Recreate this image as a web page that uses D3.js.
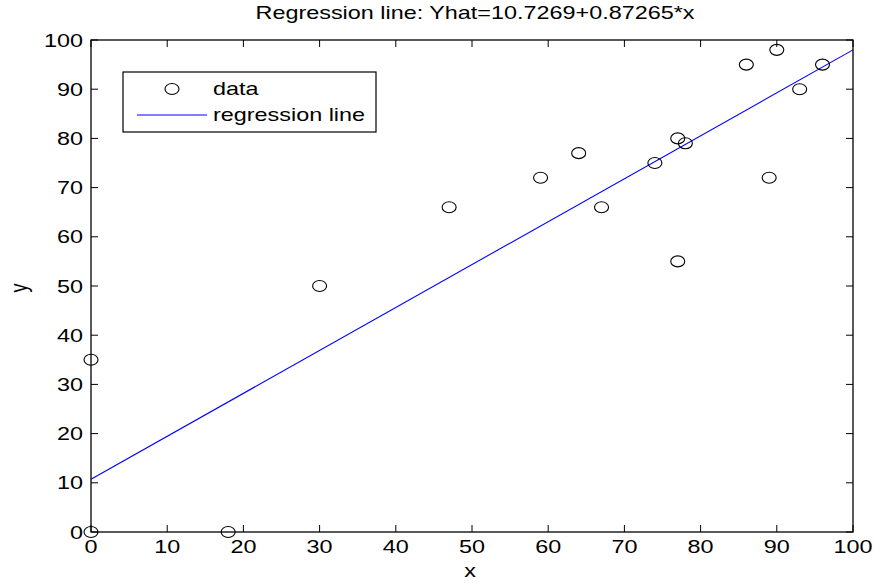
<!DOCTYPE html>
<html>
<head>
<meta charset="utf-8">
<script src="https://cdn.jsdelivr.net/npm/d3@7"></script>
<style>
  html, body { margin: 0; padding: 0; background: #fff; }
  svg { display: block; }
  text { font-family: "Liberation Sans", Arial, sans-serif; fill: #000; }
</style>
</head>
<body>
<svg id="chart" width="875" height="583"></svg>
<script>
// Observations
const xs = [0, 0, 18, 30, 47, 59, 64, 67, 74, 77, 77, 78, 86, 89, 90, 93, 96];
const ys = [0, 35, 0, 50, 66, 72, 77, 66, 75, 80, 55, 79, 95, 72, 98, 90, 95];

// Fitted coefficients
const intercept = 10.7269;
const slope = 0.87265;

const xTicks = [0, 10, 20, 30, 40, 50, 60, 70, 80, 90, 100];
const yTicks = [0, 10, 20, 30, 40, 50, 60, 70, 80, 90, 100];
const legendLabels = ["data", "regression line"];

const L = 91, R = 853, T = 40, B = 532;
const FS = 18, SX = 1.3;   // font size, horizontal text stretch
const tickLen = 7;

const svg = d3.select("#chart");
const x = d3.scaleLinear().domain([0, 100]).range([L, R]);
const y = d3.scaleLinear().domain([0, 100]).range([B, T]);

// text helper with horizontal stretch
function label(g, str, px, py, anchor, extra) {
  return g.append("text")
    .attr("transform", `translate(${px},${py}) scale(${SX},1)` + (extra || ""))
    .attr("text-anchor", anchor)
    .attr("font-size", FS)
    .text(str);
}

// regression line
const lineData = [0, 100].map(v => [v, intercept + slope * v]);
svg.append("path")
  .attr("d", d3.line().x(d => x(d[0])).y(d => y(d[1]))(lineData))
  .attr("fill", "none")
  .attr("stroke", "#0000ff")
  .attr("stroke-width", 1.1);

// data markers
svg.append("g").selectAll("ellipse")
  .data(xs.map((v, i) => [v, ys[i]]))
  .join("ellipse")
  .attr("cx", d => x(d[0]))
  .attr("cy", d => y(d[1]))
  .attr("rx", 7)
  .attr("ry", 5.5)
  .attr("fill", "none")
  .attr("stroke", "#000")
  .attr("stroke-width", 1.1);

// axes box
svg.append("rect")
  .attr("x", L).attr("y", T)
  .attr("width", R - L).attr("height", B - T)
  .attr("fill", "none")
  .attr("stroke", "#000")
  .attr("stroke-width", 1.3);

// inward ticks on all four sides
const tg = svg.append("g").attr("stroke", "#000").attr("stroke-width", 1);
xTicks.forEach(t => {
  tg.append("line").attr("x1", x(t)).attr("x2", x(t)).attr("y1", B).attr("y2", B - tickLen);
  tg.append("line").attr("x1", x(t)).attr("x2", x(t)).attr("y1", T).attr("y2", T + tickLen);
});
yTicks.forEach(t => {
  tg.append("line").attr("y1", y(t)).attr("y2", y(t)).attr("x1", L).attr("x2", L + tickLen);
  tg.append("line").attr("y1", y(t)).attr("y2", y(t)).attr("x1", R).attr("x2", R - tickLen);
});

// tick labels
const lg = svg.append("g");
xTicks.forEach(t => label(lg, String(t), x(t), B + 21, "middle"));
yTicks.forEach(t => label(lg, String(t), L - 8, y(t) + 6.5, "end"));

// title and axis labels
label(svg, "Regression line: Yhat=10.7269+0.87265*x", (L + R) / 2 + 3, 19, "middle");
label(svg, "x", (L + R) / 2 - 2, 577, "middle");
svg.append("text")
  .attr("transform", `translate(27,288) rotate(-90) scale(1,${SX})`)
  .attr("text-anchor", "middle")
  .attr("font-size", FS)
  .text("y");

// legend
const leg = svg.append("g");
leg.append("rect")
  .attr("x", 123).attr("y", 72)
  .attr("width", 253).attr("height", 60)
  .attr("fill", "#fff")
  .attr("stroke", "#000")
  .attr("stroke-width", 1.2);
leg.append("ellipse")
  .attr("cx", 172).attr("cy", 89)
  .attr("rx", 7).attr("ry", 5.5)
  .attr("fill", "none").attr("stroke", "#000").attr("stroke-width", 1.1);
leg.append("line")
  .attr("x1", 137).attr("x2", 207).attr("y1", 115).attr("y2", 115)
  .attr("stroke", "#0000ff").attr("stroke-width", 1.1);
label(leg, legendLabels[0], 213, 95, "start");
label(leg, legendLabels[1], 213, 121, "start");
</script>
</body>
</html>
